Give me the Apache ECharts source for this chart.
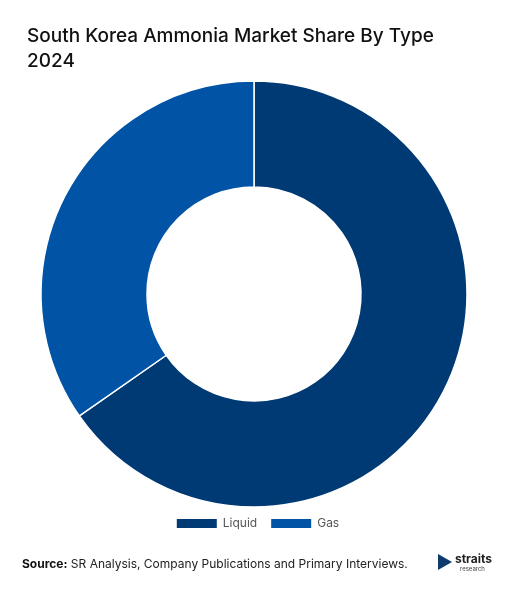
<!DOCTYPE html>
<html>
<head>
<meta charset="utf-8">
<script src="https://cdn.jsdelivr.net/npm/echarts@6/dist/echarts.min.js"></script>
<style>
  html,body{margin:0;padding:0;background:#fff;}
  #main{width:514px;height:597px;}
</style>
</head>
<body>
<div id="main"></div>
<script>
// market share by type, 2024
const types = ['Liquid', 'Gas'];
const shares = [65.3, 34.7];
const colors = ['#003a75', '#0053a5'];

const chart = echarts.init(document.getElementById('main'));
chart.setOption({
  animation: false,
  title: {
    text: 'South Korea Ammonia Market Share By Type\n2024',
    left: 22,
    top: 19,
    textStyle: { fontFamily: 'Inter', fontSize: 19, fontWeight: 500, color: '#111', lineHeight: 25 }
  },
  legend: {
    data: types,
    bottom: 62,
    left: 'center',
    itemWidth: 42,
    itemHeight: 11,
    itemGap: 12,
    icon: 'rect',
    textStyle: { fontFamily: 'Inter', fontSize: 12, color: '#555' }
  },
  graphic: [
    {
      type: 'text', left: 22, top: 558,
      style: {
        rich: { b: { fontWeight: 'bold', fontSize: 12, fontFamily: 'Inter', fill: '#111' },
                n: { fontSize: 12, fontFamily: 'Inter', fill: '#222' } },
        text: '{b|Source:} {n|SR Analysis, Company Publications and Primary Interviews.}'
      }
    },
    {
      type: 'text', left: 455, top: 553,
      style: { text: 'straits', fontSize: 12, fontWeight: 'bold', fontFamily: 'Inter', fill: '#222' }
    },
    {
      type: 'text', left: 460, top: 566,
      style: { text: 'research', fontSize: 6, fontFamily: 'Inter', fill: '#444' }
    },
    {
      type: 'polygon', left: 438, top: 554,
      shape: { points: [[0,0],[14,8],[0,16]] },
      style: { fill: '#0d3b6e' }
    }
  ],
  series: [{
    type: 'pie',
    center: [254, 294],
    radius: [107, 213],
    startAngle: 90,
    clockwise: true,
    label: { show: false },
    labelLine: { show: false },
    itemStyle: { borderColor: '#fff', borderWidth: 1.5 },
    data: types.map((t, i) => ({ name: t, value: shares[i], itemStyle: { color: colors[i] } }))
  }]
});
</script>
</body>
</html>
